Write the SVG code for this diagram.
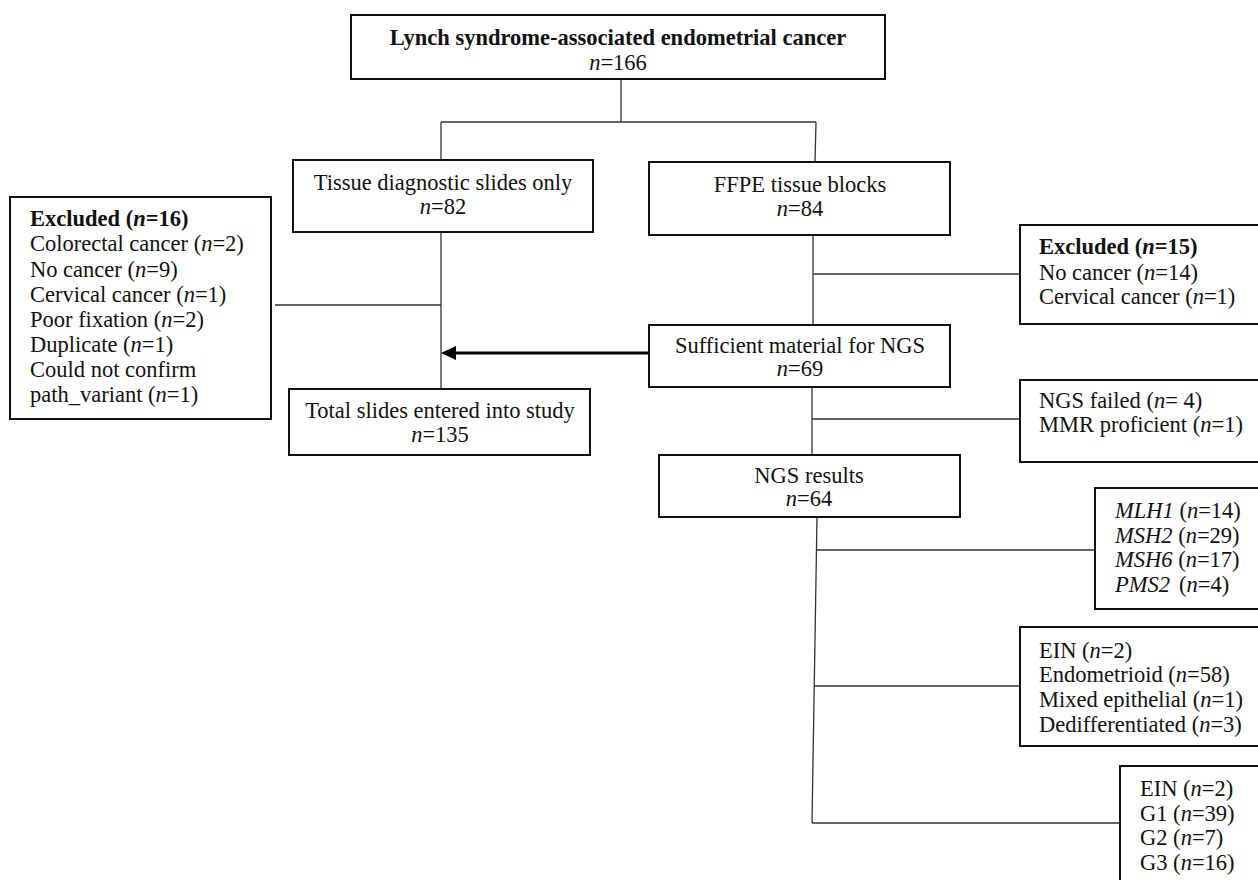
<svg xmlns="http://www.w3.org/2000/svg" width="1258" height="880" viewBox="0 0 1258 880">
<style>
  text { font-family: "Liberation Serif", "Times New Roman", serif; font-size: 22.5px; fill: #111; }
  .c { text-anchor: middle; }
  .b { font-weight: bold; }
  .i { font-style: italic; }
  .box { fill: #fff; stroke: #111; stroke-width: 2; }
  .ln { fill: none; stroke: #333; stroke-width: 1.3; }
  .arr { fill: none; stroke: #000; stroke-width: 3; }
</style>
<rect width="1258" height="880" fill="#fff"/>

<g id="connectors">
  <path class="ln" d="M621,79 V122"/>
  <path class="ln" d="M441,122 H816"/>
  <path class="ln" d="M441,122 V160"/>
  <path class="ln" d="M816,122 L815,162"/>
  <path class="ln" d="M441,232 V389"/>
  <path class="ln" d="M275,305 H441"/>
  <path class="ln" d="M813,235 V325"/>
  <path class="ln" d="M813,274 H1020"/>
  <path class="ln" d="M812,388 V455"/>
  <path class="ln" d="M812,419 H1020"/>
  <path class="ln" d="M817,517 L812,823"/>
  <path class="ln" d="M817,550 H1095"/>
  <path class="ln" d="M814,686 H1020"/>
  <path class="ln" d="M812,823 H1120"/>
  <path class="arr" d="M649,353 H455"/>
  <path d="M441,353 L456,346 L456,360 Z" fill="#000"/>
</g>

<g id="n-top">
  <rect class="box" x="351" y="15" width="534" height="64"/>
  <text class="c b" x="618" y="45">Lynch syndrome-associated endometrial cancer</text>
  <text class="c" x="618" y="70"><tspan class="i">n</tspan>=166</text>
</g>

<g id="n-tissue">
  <rect class="box" x="293" y="160" width="300" height="72"/>
  <text class="c" x="443" y="190">Tissue diagnostic slides only</text>
  <text class="c" x="443" y="214"><tspan class="i">n</tspan>=82</text>
</g>

<g id="n-ffpe">
  <rect class="box" x="649" y="162" width="301" height="73"/>
  <text class="c" x="800" y="192">FFPE tissue blocks</text>
  <text class="c" x="800" y="216"><tspan class="i">n</tspan>=84</text>
</g>

<g id="n-excl16">
  <rect class="box" x="10" y="197" width="261" height="222"/>
  <text x="30" y="226" class="b">Excluded (<tspan class="i">n</tspan>=16)</text>
  <text x="30" y="251">Colorectal cancer (<tspan class="i">n</tspan>=2)</text>
  <text x="30" y="277">No cancer (<tspan class="i">n</tspan>=9)</text>
  <text x="30" y="302">Cervical cancer (<tspan class="i">n</tspan>=1)</text>
  <text x="30" y="327">Poor fixation (<tspan class="i">n</tspan>=2)</text>
  <text x="30" y="352">Duplicate (<tspan class="i">n</tspan>=1)</text>
  <text x="30" y="377">Could not confirm</text>
  <text x="30" y="402">path_variant (<tspan class="i">n</tspan>=1)</text>
</g>

<g id="n-excl15">
  <rect class="box" x="1020" y="225" width="245" height="99"/>
  <text x="1039" y="254" class="b">Excluded (<tspan class="i">n</tspan>=15)</text>
  <text x="1039" y="280">No cancer (<tspan class="i">n</tspan>=14)</text>
  <text x="1039" y="304">Cervical cancer (<tspan class="i">n</tspan>=1)</text>
</g>

<g id="n-sufficient">
  <rect class="box" x="649" y="325" width="301" height="62"/>
  <text class="c" x="800" y="353">Sufficient material for NGS</text>
  <text class="c" x="800" y="376"><tspan class="i">n</tspan>=69</text>
</g>

<g id="n-total">
  <rect class="box" x="289" y="389" width="301" height="66"/>
  <text class="c" x="440" y="418">Total slides entered into study</text>
  <text class="c" x="440" y="442"><tspan class="i">n</tspan>=135</text>
</g>

<g id="n-failed">
  <rect class="box" x="1020" y="380" width="245" height="82"/>
  <text x="1039" y="408">NGS failed (<tspan class="i">n</tspan>= 4)</text>
  <text x="1039" y="432">MMR proficient (<tspan class="i">n</tspan>=1)</text>
</g>

<g id="n-ngs">
  <rect class="box" x="659" y="455" width="301" height="62"/>
  <text class="c" x="809" y="483">NGS results</text>
  <text class="c" x="809" y="506"><tspan class="i">n</tspan>=64</text>
</g>

<g id="n-genes">
  <rect class="box" x="1095" y="488" width="170" height="121"/>
  <text x="1115" y="518"><tspan class="i">MLH1</tspan> (<tspan class="i">n</tspan>=14)</text>
  <text x="1115" y="543"><tspan class="i">MSH2</tspan> (<tspan class="i">n</tspan>=29)</text>
  <text x="1115" y="567"><tspan class="i">MSH6</tspan> (<tspan class="i">n</tspan>=17)</text>
  <text x="1115" y="592"><tspan class="i">PMS2</tspan><tspan x="1179">(<tspan class="i">n</tspan>=4)</tspan></text>
</g>

<g id="n-histology">
  <rect class="box" x="1020" y="627" width="245" height="119"/>
  <text x="1039" y="658">EIN (<tspan class="i">n</tspan>=2)</text>
  <text x="1039" y="682">Endometrioid (<tspan class="i">n</tspan>=58)</text>
  <text x="1039" y="707">Mixed epithelial (<tspan class="i">n</tspan>=1)</text>
  <text x="1039" y="732">Dedifferentiated (<tspan class="i">n</tspan>=3)</text>
</g>

<g id="n-grade">
  <rect class="box" x="1120" y="766" width="145" height="130"/>
  <text x="1140" y="796">EIN (<tspan class="i">n</tspan>=2)</text>
  <text x="1140" y="821">G1 (<tspan class="i">n</tspan>=39)</text>
  <text x="1140" y="845">G2 (<tspan class="i">n</tspan>=7)</text>
  <text x="1140" y="870">G3 (<tspan class="i">n</tspan>=16)</text>
</g>
</svg>
